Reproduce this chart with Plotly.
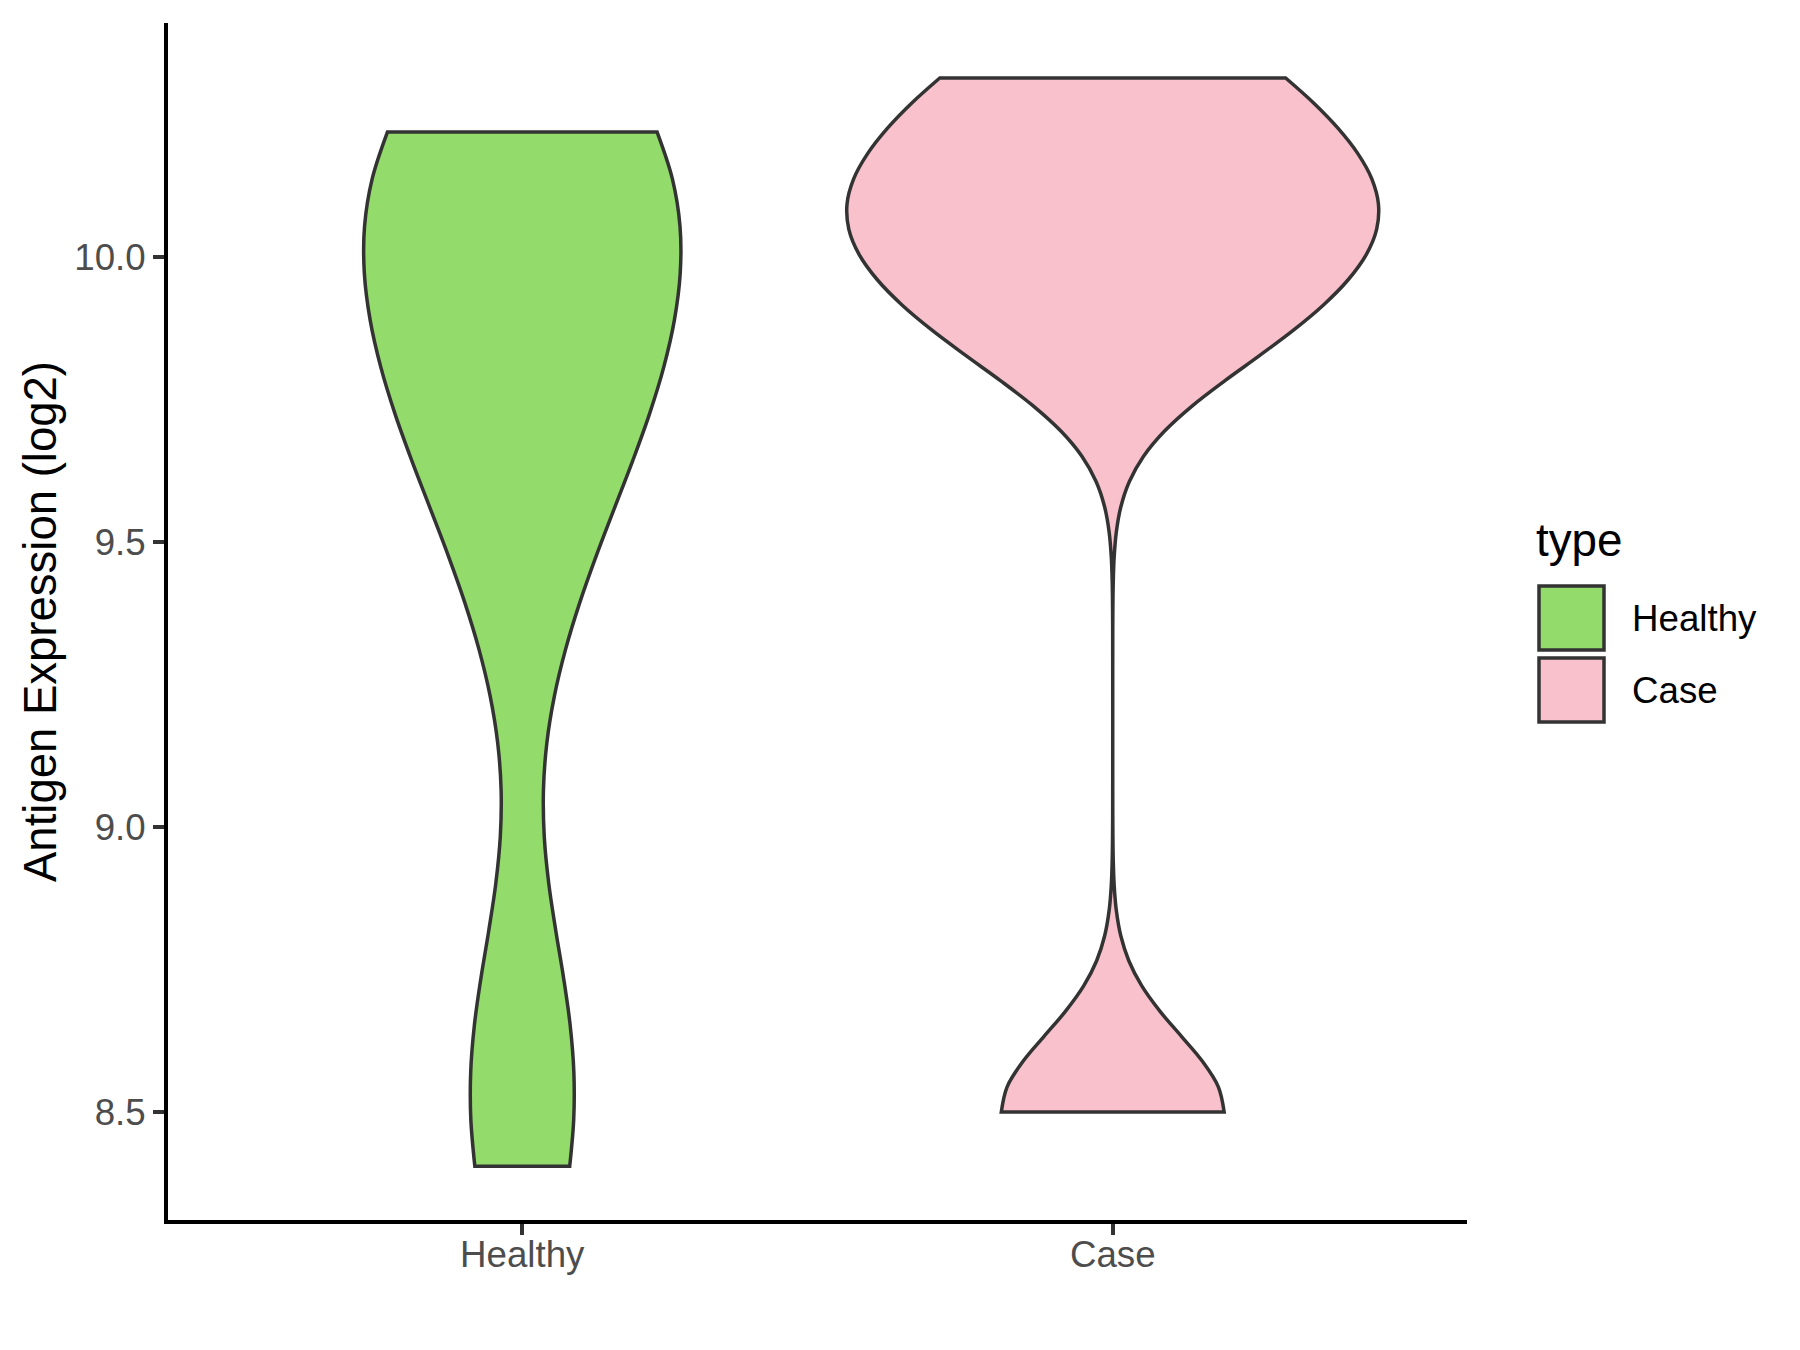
import plotly.graph_objects as go

# ---- data (estimated sample values behind each violin) ----
categories = ["Healthy", "Case"]
healthy_values = [8.405, 8.655, 9.434, 9.773, 9.786, 9.809, 10.101, 10.169, 10.183, 10.220]
case_values = [8.500, 9.873, 10.037, 10.139, 10.315]
bandwidths = [0.256, 0.135]
violin_widths = [0.535, 0.9]
fill_colors = ["#93DB6A", "#F8C1CC"]
y_tick_values = [8.5, 9.0, 9.5, 10.0]
y_tick_labels = ["8.5", "9.0", "9.5", "10.0"]
legend_title = "type"
y_title = "Antigen Expression (log2)"

series = [healthy_values, case_values]

W, H = 1800, 1350
OFF = 8  # page body margin
L, R, T, B = 168, 1467, 23, 1220  # plot area in screen pixels

def px(x):
    return (x - L) / (R - L)

def py(y):
    return (B - y) / (B - T)

fig = go.Figure()
for cat, vals, bw, wd, col in zip(categories, series, bandwidths, violin_widths, fill_colors):
    fig.add_trace(go.Violin(
        x=[cat] * len(vals), y=vals, name=cat,
        bandwidth=bw, width=wd, spanmode="hard", scalemode="width",
        fillcolor=col, line=dict(color="#333333", width=3.5),
        points=False, box_visible=False, meanline_visible=False,
        opacity=1, showlegend=False, hoverinfo="skip",
    ))

font_family = "Liberation Sans, Arial, sans-serif"
fig.update_layout(
    width=W, height=H, autosize=False,
    margin=dict(l=L - OFF, r=W - (R - OFF), t=T - OFF, b=H - (B - OFF), pad=0),
    plot_bgcolor="white", paper_bgcolor="white",
    showlegend=False, violinmode="overlay",
    font=dict(family=font_family),
    xaxis=dict(
        type="category", categoryorder="array", categoryarray=categories,
        range=[-0.6, 1.6], showgrid=False, zeroline=False,
        showline=True, linecolor="black", linewidth=4,
        ticks="outside", ticklen=11, tickwidth=3.5, tickcolor="#333333",
        ticklabelstandoff=-12,
        tickfont=dict(size=36.7, color="#4D4D4D", family=font_family),
    ),
    yaxis=dict(
        range=[8.3105, 10.4115], showgrid=False, zeroline=False,
        showline=True, linecolor="black", linewidth=4,
        tickmode="array", tickvals=y_tick_values, ticktext=y_tick_labels,
        ticks="outside", ticklen=11, tickwidth=3.5, tickcolor="#333333",
        tickfont=dict(size=36.7, color="#4D4D4D", family=font_family),
        title=dict(text=y_title, font=dict(size=45.5, color="black", family=font_family), standoff=4),
    ),
)

# manual ggplot-style legend
fig.add_annotation(xref="paper", yref="paper", x=px(1534), y=py(540), xanchor="left", yanchor="middle",
                   text=legend_title, showarrow=False, font=dict(size=45.8, color="black", family=font_family))
key_tops = [586, 658]
for cat, col, top in zip(categories, fill_colors, key_tops):
    fig.add_shape(type="rect", xref="paper", yref="paper",
                  x0=px(1539), x1=px(1604), y0=py(top + 64), y1=py(top),
                  fillcolor=col, line=dict(color="#333333", width=3.5))
    fig.add_annotation(xref="paper", yref="paper", x=px(1630), y=py(top + 32), xanchor="left", yanchor="middle",
                       text=cat, showarrow=False, font=dict(size=36.7, color="black", family=font_family))

fig.write_html("out.html")
